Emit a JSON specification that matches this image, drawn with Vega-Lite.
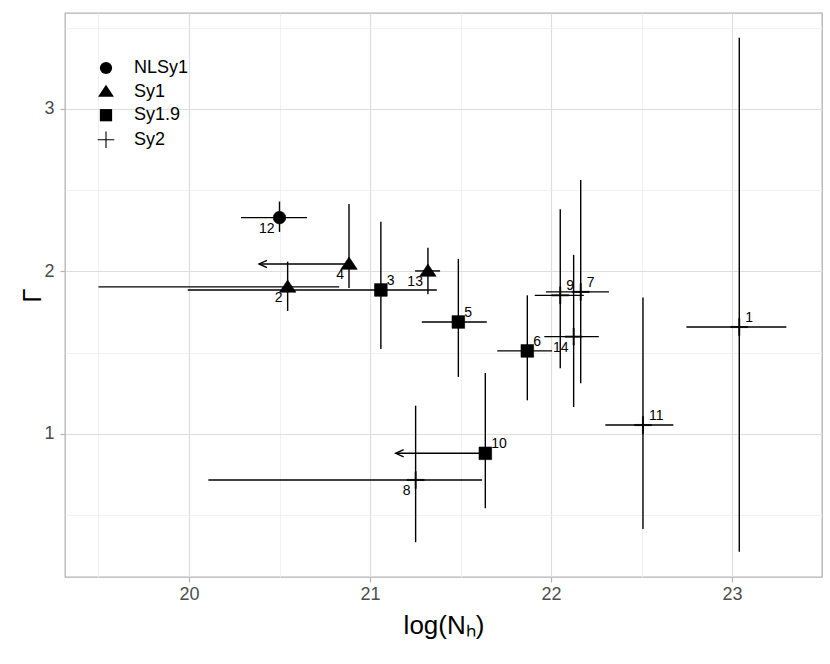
{
  "$schema": "https://vega.github.io/schema/vega-lite/v6.json",
  "autosize": {"type": "none"},
  "padding": {"left": 65, "top": 13, "right": 8, "bottom": 87},
  "width": 757,
  "height": 564,
  "background": "white",
  "config": {
    "font": "Liberation Sans",
    "view": {"stroke": "#B3B3B3", "strokeWidth": 1.3},
    "axis": {
      "domain": false,
      "tickColor": "#B3B3B3",
      "tickSize": 5,
      "tickWidth": 1.2,
      "labelFontSize": 18,
      "labelColor": "#4D4D4D",
      "labelFont": "Liberation Sans",
      "titleFont": "Liberation Sans",
      "titleFontSize": 26,
      "titleFontWeight": "normal",
      "titleColor": "black",
      "gridColor": {"condition": {"test": "datum.value % 1 === 0", "value": "#DEDEDE"}, "value": "#EEEEEE"},
      "gridWidth": {"condition": {"test": "datum.value % 1 === 0", "value": 1.2}, "value": 0.8},
      "tickOpacity": {"condition": {"test": "datum.value % 1 === 0", "value": 1}, "value": 0},
      "labelExpr": "datum.value % 1 === 0 ? format(datum.value, 'd') : ''"
    },
    "legend": {
      "labelFont": "Liberation Sans",
      "labelFontSize": 18,
      "labelColor": "black",
      "symbolFillColor": "black",
      "symbolStrokeColor": "black",
      "symbolStrokeWidth": 0.6,
      "symbolSize": 150
    }
  },
  "data": {
    "values": [
      {"id": 1, "type": "Sy2", "nh": 23.04, "gamma": 1.658, "nh_lo": 22.748, "nh_hi": 23.3, "g_lo": 0.276, "g_hi": 3.437, "nh_upper": false},
      {"id": 2, "type": "Sy1", "nh": 20.545, "gamma": 1.905, "nh_lo": 19.5, "nh_hi": 20.83, "g_lo": 1.757, "g_hi": 2.06, "nh_upper": false},
      {"id": 3, "type": "Sy1.9", "nh": 21.06, "gamma": 1.886, "nh_lo": 19.993, "nh_hi": 21.369, "g_lo": 1.523, "g_hi": 2.305, "nh_upper": false},
      {"id": 4, "type": "Sy1", "nh": 20.884, "gamma": 2.046, "nh_lo": 20.387, "nh_hi": 20.884, "g_lo": 1.898, "g_hi": 2.415, "nh_upper": true},
      {"id": 5, "type": "Sy1.9", "nh": 21.488, "gamma": 1.689, "nh_lo": 21.286, "nh_hi": 21.645, "g_lo": 1.351, "g_hi": 2.077, "nh_upper": false},
      {"id": 6, "type": "Sy1.9", "nh": 21.869, "gamma": 1.511, "nh_lo": 21.703, "nh_hi": 22.006, "g_lo": 1.207, "g_hi": 1.853, "nh_upper": false},
      {"id": 7, "type": "Sy2", "nh": 22.164, "gamma": 1.874, "nh_lo": 21.972, "nh_hi": 22.32, "g_lo": 1.312, "g_hi": 2.563, "nh_upper": false},
      {"id": 8, "type": "Sy2", "nh": 21.252, "gamma": 0.717, "nh_lo": 20.107, "nh_hi": 21.619, "g_lo": 0.334, "g_hi": 1.174, "nh_upper": false},
      {"id": 9, "type": "Sy2", "nh": 22.051, "gamma": 1.853, "nh_lo": 21.91, "nh_hi": 22.181, "g_lo": 1.405, "g_hi": 2.383, "nh_upper": false},
      {"id": 10, "type": "Sy1.9", "nh": 21.637, "gamma": 0.881, "nh_lo": 21.142, "nh_hi": 21.637, "g_lo": 0.543, "g_hi": 1.375, "nh_upper": true},
      {"id": 11, "type": "Sy2", "nh": 22.508, "gamma": 1.055, "nh_lo": 22.3, "nh_hi": 22.676, "g_lo": 0.415, "g_hi": 1.839, "nh_upper": false},
      {"id": 12, "type": "NLSy1", "nh": 20.5, "gamma": 2.331, "nh_lo": 20.287, "nh_hi": 20.652, "g_lo": 2.243, "g_hi": 2.43, "nh_upper": false},
      {"id": 13, "type": "Sy1", "nh": 21.32, "gamma": 2.003, "nh_lo": 21.249, "nh_hi": 21.387, "g_lo": 1.86, "g_hi": 2.146, "nh_upper": false},
      {"id": 14, "type": "Sy2", "nh": 22.125, "gamma": 1.599, "nh_lo": 21.963, "nh_hi": 22.264, "g_lo": 1.166, "g_hi": 2.102, "nh_upper": false}
    ]
  },
  "encoding": {
    "x": {
      "field": "nh",
      "type": "quantitative",
      "title": "log(Nₕ)",
      "scale": {"domain": [19.315, 23.497], "nice": false, "zero": false},
      "axis": {"values": [19.5, 20, 20.5, 21, 21.5, 22, 22.5, 23, 23.5], "labelPadding": 3, "titlePadding": 9}
    },
    "y": {
      "field": "gamma",
      "type": "quantitative",
      "title": "Γ",
      "scale": {"domain": [0.12, 3.59], "nice": false, "zero": false},
      "axis": {"values": [0.5, 1, 1.5, 2, 2.5, 3, 3.5], "labelPadding": 6, "titlePadding": -2}
    }
  },
  "layer": [
    {
      "mark": {"type": "rule", "color": "black", "strokeWidth": 1.4},
      "encoding": {
        "x": {"field": "nh_lo", "type": "quantitative"},
        "x2": {"field": "nh_hi"}
      }
    },
    {
      "mark": {"type": "rule", "color": "black", "strokeWidth": 1.4},
      "encoding": {
        "y": {"field": "g_lo", "type": "quantitative"},
        "y2": {"field": "g_hi"}
      }
    },
    {
      "transform": [{"filter": "datum.nh_upper"}],
      "mark": {"type": "point", "shape": "M1.3,-0.6L0,0L1.3,0.6", "filled": false, "stroke": "black", "strokeWidth": 1.4, "size": 150, "opacity": 1},
      "encoding": {
        "x": {"field": "nh_lo", "type": "quantitative"}
      }
    },
    {
      "mark": {"type": "point", "filled": true, "fill": "black", "stroke": "black", "strokeWidth": 0.6, "size": 160, "opacity": 1},
      "encoding": {
        "shape": {
          "field": "type",
          "type": "nominal",
          "scale": {
            "domain": ["NLSy1", "Sy1", "Sy1.9", "Sy2"],
            "range": ["circle", "M0,-1.1L1.3,0.85L-1.3,0.85Z", "square", "M-1.35,-0.09L1.35,-0.09L1.35,0.09L-1.35,0.09Z M-0.09,-1.35L0.09,-1.35L0.09,1.35L-0.09,1.35Z"]
          },
          "legend": {
            "title": null,
            "orient": "none",
            "legendX": 32,
            "legendY": 46,
            "padding": 0,
            "rowPadding": 5.6,
            "labelOffset": 19
          }
        }
      }
    },
    {
      "transform": [{"filter": "indexof([1, 3, 5, 6, 7, 9, 10, 11], datum.id) >= 0"}],
      "mark": {"type": "text", "align": "left", "baseline": "middle", "dx": 6, "dy": -9, "fontSize": 14, "color": "black"},
      "encoding": {"text": {"field": "id", "type": "nominal"}}
    },
    {
      "transform": [{"filter": "indexof([2, 4, 8, 12, 13, 14], datum.id) >= 0"}],
      "mark": {"type": "text", "align": "right", "baseline": "middle", "dx": -5, "dy": 11, "fontSize": 14, "color": "black"},
      "encoding": {"text": {"field": "id", "type": "nominal"}}
    }
  ]
}
